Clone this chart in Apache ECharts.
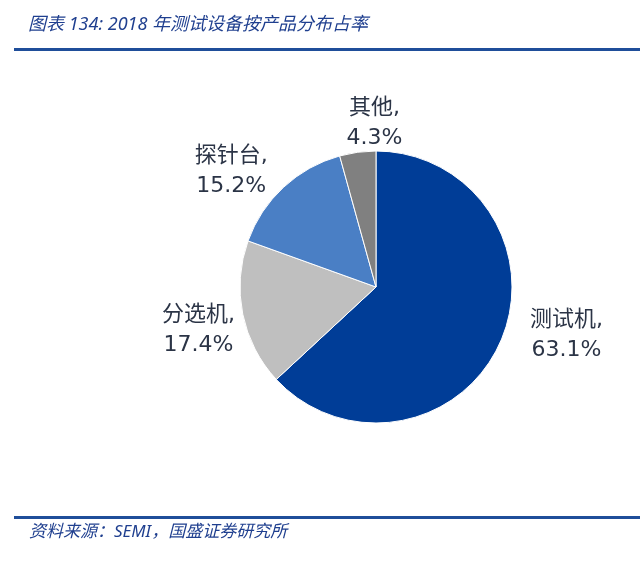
<!DOCTYPE html>
<html>
<head>
<meta charset="utf-8">
<script src="https://cdn.jsdelivr.net/npm/echarts@6/dist/echarts.min.js"></script>
<style>
    html, body { margin: 0; padding: 0; background: #fff; }
    #chart { width: 640px; height: 569px; }
</style>
</head>
<body>
<div id="chart"></div>
<script>
// 产品类别与占比(%)
var categories = ['测试机', '分选机', '探针台', '其他'];
var shares = [63.1, 17.4, 15.2, 4.3];
var sliceColors = ['#003D97', '#BFBFBF', '#4A7FC5', '#808080'];

var titleText = '图表 134: 2018 年测试设备按产品分布占率';
var sourceText = '资料来源：SEMI，国盛证券研究所';

var cx = 376, cy = 287, radius = 136;
var labelGap = 8;
// 标签微调（像素），让标签位置接近原图
var labelNudge = [[22, -25], [0, 7], [-19, 20], [22, 9]];

var chart = echarts.init(document.getElementById('chart'));

// 每个扇区的中点角度（从12点方向顺时针）
var total = shares.reduce(function(a, b) { return a + b; }, 0);
var midAngles = [];
var acc = 0;
for (var i = 0; i < shares.length; i++) {
    midAngles.push((acc + shares[i] / 2) / total * Math.PI * 2);
    acc += shares[i];
}

var pieData = [];
for (var i = 0; i < categories.length; i++) {
    pieData.push({ name: categories[i], value: shares[i], itemStyle: { color: sliceColors[i] } });
}

var option = {
    backgroundColor: '#fff',
    animation: false,
    graphic: [
        {
            type: 'text', left: 28, top: 16,
            style: {
                text: titleText,
                font: 'italic 18px "Noto Sans", "Noto Sans CJK SC"',
                fill: '#1F3F8F'
            }
        },
        { type: 'rect', shape: { x: 14, y: 48, width: 626, height: 3 }, style: { fill: '#1F4E9A' } },
        { type: 'rect', shape: { x: 14, y: 516, width: 626, height: 3 }, style: { fill: '#1F4E9A' } },
        {
            type: 'text', left: 29, top: 524,
            style: {
                text: sourceText,
                font: 'italic 17px "Noto Sans", "Noto Sans CJK SC"',
                fill: '#1F3F8F'
            }
        }
    ],
    series: [{
        type: 'pie',
        center: [cx, cy],
        radius: radius,
        startAngle: 90,
        clockwise: true,
        data: pieData,
        itemStyle: { borderColor: '#fff', borderWidth: 1 },
        label: {
            show: true,
            position: 'outside',
            formatter: function(p) { return p.name + ',\n' + p.value.toFixed(1) + '%'; },
            fontFamily: '"DejaVu Sans", "Noto Sans CJK SC"',
            fontSize: 22,
            lineHeight: 30,
            color: '#2B3446',
            align: 'center'
        },
        labelLine: { show: false },
        labelLayout: function(params) {
            var a = midAngles[params.dataIndex];
            var dx = Math.sin(a), dy = -Math.cos(a);
            var hw = params.labelRect.width / 2, hh = params.labelRect.height / 2;
            var ext = Math.min(Math.abs(dx) > 1e-6 ? hw / Math.abs(dx) : 1e9,
                               Math.abs(dy) > 1e-6 ? hh / Math.abs(dy) : 1e9);
            var d = radius + labelGap + ext;
            var n = labelNudge[params.dataIndex];
            return { x: cx + d * dx + n[0], y: cy + d * dy + n[1], align: 'center', verticalAlign: 'middle' };
        }
    }]
};

chart.setOption(option);
</script>
</body>
</html>
